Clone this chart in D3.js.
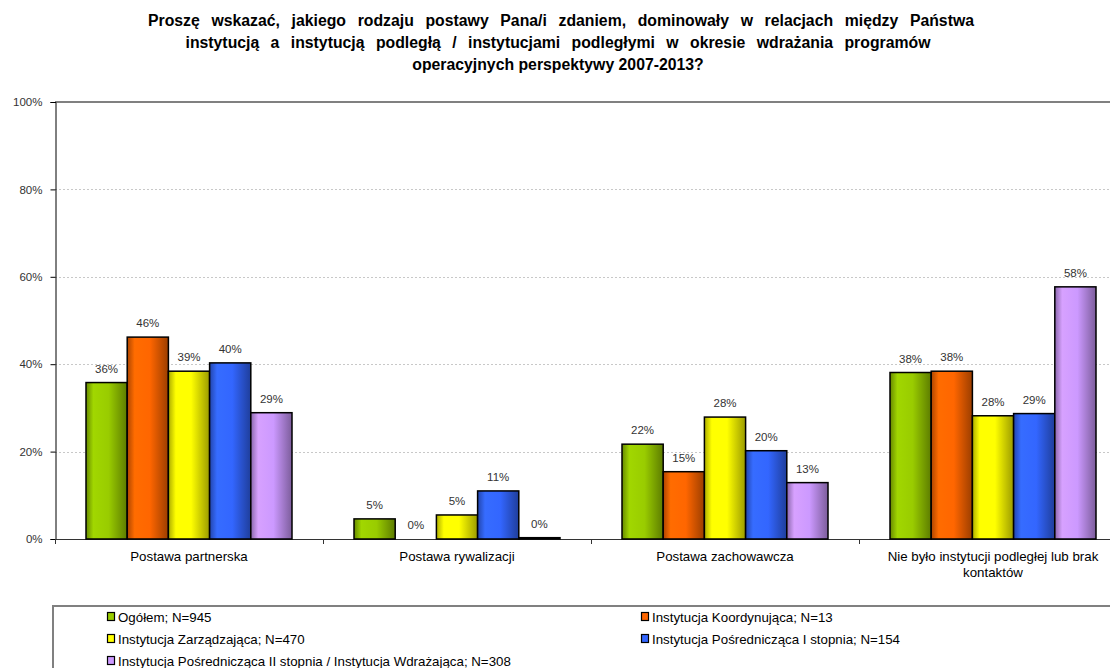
<!DOCTYPE html>
<html>
<head>
<meta charset="utf-8">
<script src="https://cdn.jsdelivr.net/npm/d3@7"></script>
<style>
  html, body { margin: 0; padding: 0; background: #fff; overflow: hidden; }
  svg { display: block; font-family: "Liberation Sans", Arial, sans-serif; }
</style>
</head>
<body>
<svg id="chart" width="1110" height="668"></svg>
<script>
// Question title (three lines)
const titleLines = [
  "Proszę wskazać, jakiego rodzaju postawy Pana/i zdaniem, dominowały w relacjach między Państwa",
  "instytucją a instytucją podległą / instytucjami podległymi w okresie wdrażania programów",
  "operacyjnych perspektywy 2007-2013?"
];

// Answer categories
const categories = [
  ["Postawa partnerska"],
  ["Postawa rywalizacji"],
  ["Postawa zachowawcza"],
  ["Nie było instytucji podległej lub brak", "kontaktów"]
];

// Respondent groups
const seriesNames = [
  "Ogółem; N=945",
  "Instytucja Koordynująca; N=13",
  "Instytucja Zarządzająca; N=470",
  "Instytucja Pośrednicząca I stopnia; N=154",
  "Instytucja Pośrednicząca II stopnia / Instytucja Wdrażająca; N=308"
];
const seriesColors = ["#99CC00", "#FF6600", "#FFFF00", "#3366FF", "#CC99FF"];

// Shares (percent) per group, one value per category
const ogolem       = [35.8, 4.6, 21.7, 38.1];
const koordynujaca = [46.2, 0.0, 15.4, 38.4];
const zarzadzajaca = [38.4, 5.5, 27.9, 28.2];
const posredniczI  = [40.3, 11.0, 20.2, 28.7];
const posredniczII = [28.9, 0.3, 12.9, 57.7];
const seriesValues = [ogolem, koordynujaca, zarzadzajaca, posredniczI, posredniczII];

// Value labels shown above bars
const labelsOgolem       = ["36%", "5%", "22%", "38%"];
const labelsKoordynujaca = ["46%", "0%", "15%", "38%"];
const labelsZarzadzajaca = ["39%", "5%", "28%", "28%"];
const labelsPosredniczI  = ["40%", "11%", "20%", "29%"];
const labelsPosredniczII = ["29%", "0%", "13%", "58%"];
const seriesLabels = [labelsOgolem, labelsKoordynujaca, labelsZarzadzajaca, labelsPosredniczI, labelsPosredniczII];

const yTicks = [0, 20, 40, 60, 80, 100];

const svg = d3.select("#chart");

// ---- title: words spread so each line fills its width ----
const titleWidths = [826, 745, 290];
const title = svg.append("g")
  .attr("font-weight", "bold")
  .attr("font-size", 15.8)
  .attr("text-anchor", "middle")
  .attr("fill", "#000");
titleLines.forEach((t, i) => {
  const txt = title.append("text")
    .attr("x", i === 0 ? 561 : 558)
    .attr("y", 26 + i * 22)
    .text(t);
  const natural = txt.node().getComputedTextLength();
  const gaps = t.split(" ").length - 1;
  if (gaps > 0 && titleWidths[i] > natural) {
    txt.attr("word-spacing", (titleWidths[i] - natural) / gaps);
  }
});

// ---- scales ----
const plotLeft = 55, plotTop = 102, plotBottom = 539;
const bandW = 268;
const x0 = d3.scaleBand()
  .domain(d3.range(categories.length))
  .range([plotLeft, plotLeft + bandW * categories.length])
  .padding(0);
const x1 = d3.scaleBand()
  .domain(d3.range(seriesNames.length))
  .range([31, bandW - 31])
  .padding(0);
const y = d3.scaleLinear().domain([0, 100]).range([plotBottom, plotTop]);

// ---- gradients for the bars ----
const defs = svg.append("defs");
seriesColors.forEach((c, i) => {
  const base = d3.color(c);
  const g = defs.append("linearGradient")
    .attr("id", "grad" + i)
    .attr("x1", "0%").attr("x2", "100%").attr("y1", "0%").attr("y2", "0%");
  g.append("stop").attr("offset", "0%").attr("stop-color", base.darker(1.1));
  g.append("stop").attr("offset", "18%").attr("stop-color", base.brighter(0.15));
  g.append("stop").attr("offset", "55%").attr("stop-color", base);
  g.append("stop").attr("offset", "100%").attr("stop-color", base.darker(1.4));
});

// ---- gridlines ----
svg.append("g")
  .selectAll("line")
  .data(yTicks.filter(d => d > 0 && d < 100))
  .join("line")
  .attr("x1", plotLeft).attr("x2", 1110)
  .attr("y1", d => Math.round(y(d)) + 0.5).attr("y2", d => Math.round(y(d)) + 0.5)
  .attr("stroke", "#c8c8c8")
  .attr("stroke-dasharray", "2,2");

// plot top border
svg.append("line")
  .attr("x1", plotLeft).attr("x2", 1110)
  .attr("y1", plotTop).attr("y2", plotTop)
  .attr("stroke", "#808080").attr("stroke-width", 2);

// ---- y axis ----
const yAxis = d3.axisLeft(y)
  .tickValues(yTicks)
  .tickSize(5)
  .tickPadding(8)
  .tickFormat(d => d + "%");
const yg = svg.append("g")
  .attr("transform", `translate(${plotLeft + 0.5},0)`)
  .call(yAxis);
yg.select(".domain").attr("stroke", "#000");
yg.selectAll(".tick line").attr("stroke", "#000");
yg.selectAll(".tick text")
  .attr("font-family", "Liberation Sans, Arial, sans-serif")
  .attr("font-size", 11.5)
  .attr("fill", "#333");

// ---- x axis ----
svg.append("line")
  .attr("x1", plotLeft).attr("x2", 1110)
  .attr("y1", plotBottom + 0.5).attr("y2", plotBottom + 0.5)
  .attr("stroke", "#333");
svg.append("g")
  .selectAll("line")
  .data(d3.range(categories.length + 1))
  .join("line")
  .attr("x1", d => plotLeft + d * bandW + 0.5)
  .attr("x2", d => plotLeft + d * bandW + 0.5)
  .attr("y1", plotBottom).attr("y2", plotBottom + 5)
  .attr("stroke", "#333");

const catLabels = svg.append("g")
  .attr("font-size", 13.3)
  .attr("text-anchor", "middle")
  .attr("fill", "#000");
categories.forEach((lines, ci) => {
  const cx = x0(ci) + x0.bandwidth() / 2;
  lines.forEach((ln, li) => {
    catLabels.append("text")
      .attr("x", cx)
      .attr("y", 561 + li * 16)
      .text(ln);
  });
});

// ---- bars ----
const groups = svg.append("g")
  .selectAll("g")
  .data(categories.map((c, ci) => ci))
  .join("g")
  .attr("transform", ci => `translate(${x0(ci)},0)`);

groups.selectAll("rect")
  .data(ci => seriesValues.map((vals, si) => ({ si, v: vals[ci] })))
  .join("rect")
  .filter(d => d.v > 0)
  .attr("x", d => x1(d.si))
  .attr("width", x1.bandwidth())
  .attr("y", d => y(d.v))
  .attr("height", d => y(0) - y(d.v))
  .attr("fill", d => `url(#grad${d.si})`)
  .attr("stroke", "#000")
  .attr("stroke-width", 1.5);

groups.selectAll("text")
  .data(ci => seriesValues.map((vals, si) => ({ si, v: vals[ci], t: seriesLabels[si][ci] })))
  .join("text")
  .attr("x", d => x1(d.si) + x1.bandwidth() / 2)
  .attr("y", d => y(d.v) - 10)
  .attr("text-anchor", "middle")
  .attr("font-size", 11.5)
  .attr("fill", "#333")
  .text(d => d.t);

// ---- legend ----
svg.append("rect")
  .attr("x", 53).attr("y", 606)
  .attr("width", 1100).attr("height", 100)
  .attr("fill", "none")
  .attr("stroke", "#808080")
  .attr("stroke-width", 2);

const legendPos = [
  [107, 617], [641, 617],
  [107, 639], [641, 639],
  [107, 661]
];
const legend = svg.append("g").attr("font-size", 13.3).attr("fill", "#000");
seriesNames.forEach((name, i) => {
  const [lx, ly] = legendPos[i];
  legend.append("rect")
    .attr("x", lx + 0.5).attr("y", ly - 4.5)
    .attr("width", 7).attr("height", 8)
    .attr("fill", seriesColors[i])
    .attr("stroke", "#000").attr("stroke-width", 1.2);
  legend.append("text")
    .attr("x", lx + 11)
    .attr("y", ly + 4.5)
    .text(name);
});
</script>
</body>
</html>
